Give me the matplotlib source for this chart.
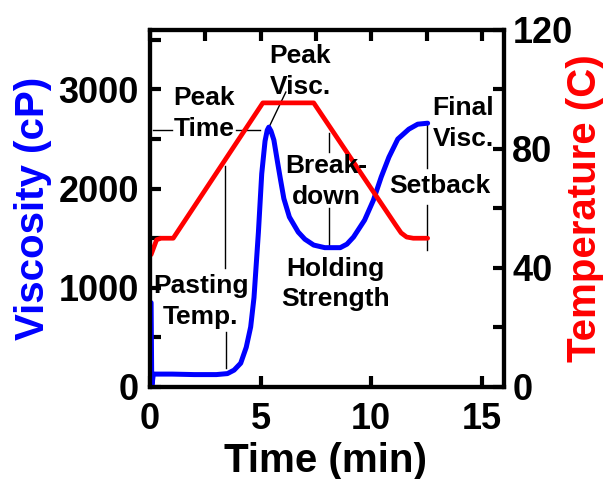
import matplotlib
matplotlib.use('Agg')
from matplotlib import pyplot as plt
from matplotlib.ticker import MultipleLocator

plt.rcParams['font.family'] = ['Liberation Sans', 'DejaVu Sans']
plt.rcParams['font.weight'] = 'bold'

# viscosity trace (RVA pasting curve)
visc_time = [0.05, 0.08, 0.15, 1.0, 2.0, 3.0, 3.5, 3.8, 4.1, 4.35, 4.55, 4.7,
             4.9, 5.05, 5.2, 5.3, 5.37, 5.47, 5.6, 5.77, 5.9, 6.05, 6.3, 6.7,
             7.0, 7.4, 7.9, 8.6, 8.9, 9.2, 9.7, 10.1, 10.45, 10.8, 11.2, 11.7,
             12.1, 12.55]
visc_cp = [850, 0, 130, 130, 125, 125, 135, 170, 240, 400, 605, 900,
           1560, 2150, 2480, 2590, 2620, 2580, 2490, 2260, 2090, 1900, 1714, 1562,
           1490, 1431, 1405, 1405, 1440, 1512, 1683, 1885, 2117, 2318, 2500, 2600,
           2650, 2660]

# temperature profile
temp_time = [0.05, 0.15, 0.3, 0.5, 1.05, 5.1, 7.4, 11.1, 11.35, 11.6, 11.9, 12.55]
temp_c = [44.5, 46.5, 49.5, 50, 50, 95.5, 95.5, 54.5, 51.8, 50.4, 50, 50]

# annotation guide lines: (times, viscosities)
guide_lines = [
    ([3.4, 3.4], [2230, 1200]),      # pasting temp, upper
    ([3.45, 3.45], [555, 190]),      # pasting temp, lower
    ([0.15, 1.0], [2590, 2590]),     # peak time, left
    ([3.9, 4.95], [2590, 2590]),     # peak time, right
    ([6.14, 5.36], [2974, 2611]),    # peak visc
    ([8.1, 8.1], [2560, 2370]),      # breakdown, upper
    ([8.1, 8.1], [1805, 1430]),      # breakdown, lower
    ([12.5, 12.5], [2660, 2208]),    # final visc / setback, upper
    ([12.5, 12.5], [1835, 1380]),    # setback, lower
]

labels = ['Peak\nTime', 'Peak\nVisc.', 'Pasting\nTemp.', 'Break-\ndown',
          'Holding\nStrength', 'Final\nVisc.', 'Setback']
label_t = [2.45, 6.8, 2.3, 7.95, 8.4, 14.15, 13.1]
label_v = [2760, 3180, 860, 2070, 1040, 2660, 2030]

fig = plt.figure(figsize=(6.1, 4.79), dpi=100)
ax = fig.add_axes([0.2459, 0.1921, 0.5803, 0.7453])
ax2 = ax.twinx()

ax.plot(visc_time, visc_cp, color='#0000ff', lw=3.6, solid_capstyle='round', zorder=3)
ax2.plot(temp_time, temp_c, color='#ff0000', lw=3.4, solid_capstyle='round')

for xs, ys in guide_lines:
    ax.plot(xs, ys, color='black', lw=1.0, zorder=2)

for txt, t, v in zip(labels, label_t, label_v):
    ax2.text(t, v / 30.0, txt, ha='center', va='center', fontsize=19,
             fontweight='bold', linespacing=1.35, zorder=5)

ax.set_xlim(0, 16)
ax.set_ylim(0, 3600)
ax2.set_ylim(0, 120)

ax.xaxis.set_major_locator(MultipleLocator(5))
ax.xaxis.set_minor_locator(MultipleLocator(2.5))
ax.yaxis.set_major_locator(MultipleLocator(1000))
ax.yaxis.set_minor_locator(MultipleLocator(500))
ax2.yaxis.set_major_locator(MultipleLocator(40))
ax2.yaxis.set_minor_locator(MultipleLocator(20))

ax.tick_params(axis='both', which='both', direction='in', width=3, length=8,
               labelsize=26, top=True, right=False)
ax.tick_params(axis='x', which='minor', bottom=False, top=True)
ax.tick_params(axis='x', which='major', pad=11)
ax.tick_params(axis='y', which='major', pad=8)
ax2.tick_params(axis='y', which='both', direction='in', width=3, length=8,
                labelsize=26, pad=6)

for a in (ax, ax2):
    for sp in a.spines.values():
        sp.set_linewidth(3)
    for lab in a.get_xticklabels() + a.get_yticklabels():
        lab.set_fontweight('bold')

ax.set_xlabel('Time (min)', fontsize=29, fontweight='bold', va='center')
ax.set_ylabel('Viscosity (cP)', fontsize=29, fontweight='bold', color='#0000ff')
ax2.set_ylabel('Temperature (C)', fontsize=29, fontweight='bold', color='#ff0000')
ax.yaxis.label.set_va('center')
ax2.yaxis.label.set_va('center')
ax.xaxis.set_label_coords(0.497, -0.208)
ax.yaxis.set_label_coords(-0.33, 0.5)
ax2.yaxis.set_label_coords(1.229, 0.5)

fig.savefig('out.png', dpi=100)
